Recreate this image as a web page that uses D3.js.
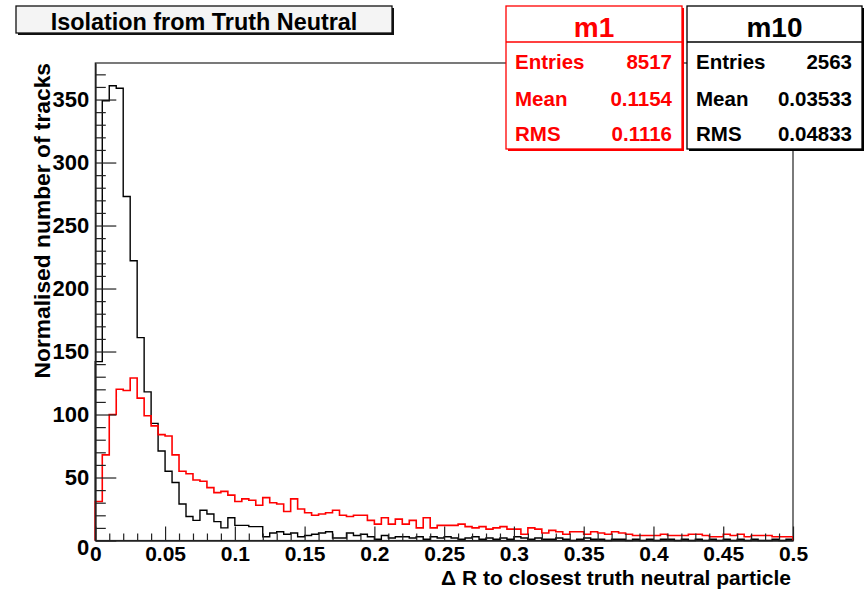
<!DOCTYPE html>
<html>
<head>
<meta charset="utf-8">
<script src="https://cdn.jsdelivr.net/npm/d3@7"></script>
<style>
  html, body { margin: 0; padding: 0; background: #fff; }
  svg { display: block; }
  text { font-family: "Liberation Sans", Arial, Helvetica, sans-serif; font-weight: bold; }
</style>
</head>
<body>
<svg id="chart" width="867" height="590"></svg>
<script>
// ---- Data ----
const binEdges = [0, 0.5];          // histogram range
const nBins = 100;                  // bins of width 0.005
const m10Values = [142,349,361,359,273,222,161,118,93,71,
  55,46,29,19,16,24,21,15,10,18,
  12,12,11,11,3,6,7,5,6,3,
  4,5,6,7,2,2,6,4,5,3,
  1,4,2,3,3,2,3,1,3,2,
  3,2,1,2,3,1,2,1,2,1,
  3,2,1,2,1,1,2,1,0,1,
  2,1,1,0,1,1,0,1,0,1,
  0,1,1,0,1,0,1,0,1,0,
  1,0,1,0,1,0,0,1,0,1];
const m1Values = [31,68,100,120,119,129,113,99,91,84,
  83,68,55,53,48,47,42,38,39,36,
  31,33,32,28,34,30,29,23,33,25,
  22,20,21,22,24,20,19,20,20,16,
  13,18,13,17,13,16,10,18,10,12,
  12,12,13,11,10,11,9,10,11,9,
  9,5,10,9,6,8,7,5,7,7,
  5,7,6,5,7,6,5,4,4,4,
  4,5,4,4,4,5,5,4,3,3,
  5,4,5,3,4,4,4,3,3,3];
const xTicks = [0,0.05,0.1,0.15,0.2,0.25,0.3,0.35,0.4,0.45,0.5];
const yTicks = [0,50,100,150,200,250,300,350];
const yMax = 379;
const titleText = "Isolation from Truth Neutral";
const xTitle = "\u0394 R to closest truth neutral particle";
const yTitle = "Normalised number of tracks";
const statsM1 = {name: "m1", rows: [["Entries","8517"],["Mean","0.1154"],["RMS","0.1116"]]};
const statsM10 = {name: "m10", rows: [["Entries","2563"],["Mean","0.03533"],["RMS","0.04833"]]};

// ---- Layout ----
const svg = d3.select("#chart");
const L = 95.3, R = 793, T = 63, B = 540.5;
const x = d3.scaleLinear().domain(binEdges).range([L, R]);
const y = d3.scaleLinear().domain([0, yMax]).range([B, T]);
const bw = (binEdges[1] - binEdges[0]) / nBins;

// frame
svg.append("rect").attr("x", L).attr("y", T).attr("width", R - L).attr("height", B - T)
  .attr("fill", "none").attr("stroke", "#222").attr("stroke-width", 1.2);

function stepPath(vals) {
  const p = d3.path();
  p.moveTo(x(0), y(0));
  vals.forEach((v, i) => {
    p.lineTo(x(i * bw), y(v));
    p.lineTo(x((i + 1) * bw), y(v));
  });
  p.lineTo(x(vals.length * bw), y(0));
  return p.toString();
}

svg.append("path").attr("d", stepPath(m10Values)).attr("fill", "none")
  .attr("stroke", "#000").attr("stroke-width", 1.4);
svg.append("path").attr("d", stepPath(m1Values)).attr("fill", "none")
  .attr("stroke", "#ff0000").attr("stroke-width", 1.6);

// axes
const fmt = d => String(+d.toFixed(2));
const xMinor = d3.range(0, 51).map(i => i * 0.01).filter(v => Math.round(v * 100) % 5 !== 0);
const yMinor = d3.range(0, 38).map(i => i * 10).filter(v => v % 50 !== 0);

const gx = svg.append("g").attr("transform", `translate(0,${B})`)
  .call(d3.axisBottom(x).tickValues(xTicks).tickSize(-14).tickSizeOuter(0).tickPadding(6).tickFormat(fmt));
svg.append("g").attr("transform", `translate(0,${B})`)
  .call(d3.axisBottom(x).tickValues(xMinor).tickSize(-7).tickSizeOuter(0).tickFormat(""));
const gy = svg.append("g").attr("transform", `translate(${L},0)`)
  .call(d3.axisLeft(y).tickValues(yTicks).tickSize(-21).tickSizeOuter(0).tickPadding(6).tickFormat(fmt));
svg.append("g").attr("transform", `translate(${L},0)`)
  .call(d3.axisLeft(y).tickValues(yMinor).tickSize(-10.5).tickSizeOuter(0).tickFormat(""));

svg.selectAll(".domain").attr("stroke", "#222").attr("stroke-width", 1.2);
svg.selectAll(".tick line").attr("stroke", "#222").attr("stroke-width", 1.2);
svg.selectAll(".tick text").attr("font-size", 21).attr("font-weight", "bold")
  .attr("font-family", "'Liberation Sans', Arial, sans-serif").attr("fill", "#000");
gy.selectAll(".tick text").attr("font-size", 22);
gy.selectAll(".tick text").filter(d => d === 0).attr("dy", "0.65em");

// axis titles
svg.append("text").attr("x", 791).attr("y", 584.5).attr("text-anchor", "end")
  .attr("font-size", 21).text(xTitle);
svg.append("text").attr("transform", `translate(50,${T}) rotate(-90)`).attr("text-anchor", "end")
  .attr("font-size", 22.8).text(yTitle);

// title box
function box(x0, y0, w, h, stroke, fill) {
  svg.append("rect").attr("x", x0 + 2).attr("y", y0 + 2).attr("width", w).attr("height", h)
    .attr("fill", stroke);
  svg.append("rect").attr("x", x0).attr("y", y0).attr("width", w).attr("height", h)
    .attr("fill", fill).attr("stroke", stroke).attr("stroke-width", 1.3);
}
box(16, 6, 376, 27, "#111", "#f4f4f4");
svg.append("text").attr("x", 204).attr("y", 30).attr("text-anchor", "middle")
  .attr("font-size", 23.4).text(titleText);

// stats boxes
function stats(s, x0, w, color) {
  const y0 = 6, h = 143;
  box(x0, y0, w, h, color, "#fff");
  svg.append("line").attr("x1", x0).attr("x2", x0 + w).attr("y1", 42).attr("y2", 42)
    .attr("stroke", color).attr("stroke-width", 1.3);
  svg.append("text").attr("x", x0 + w / 2).attr("y", 37).attr("text-anchor", "middle")
    .attr("font-size", 28).attr("fill", color).text(s.name);
  const rowY = [69, 105.5, 141];
  s.rows.forEach((r, i) => {
    svg.append("text").attr("x", x0 + 9).attr("y", rowY[i]).attr("font-size", 20.5)
      .attr("fill", color).text(r[0]);
    svg.append("text").attr("x", x0 + w - 10).attr("y", rowY[i]).attr("text-anchor", "end")
      .attr("font-size", 20.5).attr("fill", color).text(r[1]);
  });
}
stats(statsM1, 506, 176, "#ff0000");
stats(statsM10, 687, 175, "#000");
</script>
</body>
</html>
